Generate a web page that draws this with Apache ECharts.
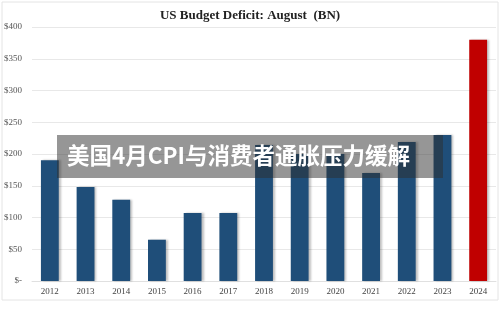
<!DOCTYPE html>
<html>
<head>
<meta charset="utf-8">
<script src="https://cdn.jsdelivr.net/npm/echarts@6/dist/echarts.min.js"></script>
<style>
html, body { margin: 0; padding: 0; background: #fff; }
#main { width: 500px; height: 315px; }
</style>
</head>
<body>
<div id="main"></div>
<script>
var years = ['2012', '2013', '2014', '2015', '2016', '2017', '2018', '2019', '2020', '2021', '2022', '2023', '2024'];
var deficit = [190, 148, 128, 65, 107, 107, 214, 200, 200, 170, 219, 230, 380];
var yTicks = [0, 50, 100, 150, 200, 250, 300, 350, 400];
var bannerText = '美国4月CPI与消费者通胀压力缓解';

var myChart = echarts.init(document.getElementById('main'));

var option = {
    backgroundColor: '#fff',
    animation: false,
    title: {
        text: 'US Budget Deficit: August  (BN)',
        left: 'center',
        top: 4,
        textStyle: {
            fontFamily: 'Liberation Serif',
            fontWeight: 'bold',
            fontSize: 13,
            color: '#222'
        }
    },
    grid: {
        left: 32,
        right: 4,
        top: 27,
        bottom: 34
    },
    xAxis: {
        type: 'category',
        data: years,
        axisLine: { lineStyle: { color: '#e0e0e0' } },
        axisTick: { show: false },
        axisLabel: {
            fontFamily: 'Liberation Serif',
            fontSize: 9,
            color: '#444',
            margin: 6
        }
    },
    yAxis: {
        type: 'value',
        min: 0,
        max: 400,
        interval: 50,
        axisLine: { show: false },
        axisTick: { show: false },
        splitLine: { lineStyle: { color: '#e8e8e8' } },
        axisLabel: {
            fontFamily: 'Liberation Serif',
            fontSize: 9,
            color: '#555',
            margin: 10,
            formatter: function (v) {
                return yTicks.indexOf(v) === 0 ? '$-' : '$' + v;
            }
        }
    },
    series: [{
        type: 'bar',
        barWidth: '50%',
        data: deficit.map(function (v, i) {
            return {
                value: v,
                itemStyle: { color: i === deficit.length - 1 ? '#c00000' : '#1f4e79' }
            };
        }),
        itemStyle: {
            shadowColor: 'rgba(0,0,0,0.25)',
            shadowOffsetX: 2,
            shadowOffsetY: 0,
            shadowBlur: 2
        }
    }],
    graphic: [{
        type: 'rect',
        shape: { x: 2, y: 2, width: 496, height: 298 },
        style: { fill: 'none', stroke: '#e4e4e4', lineWidth: 1 },
        z: 1
    }, {
        type: 'rect',
        shape: { x: 57, y: 135, width: 386, height: 43 },
        style: { fill: 'rgba(45,45,45,0.5)' },
        z: 100
    }, {
        type: 'text',
        left: 67,
        top: 144,
        style: {
            text: bannerText,
            fill: '#fff',
            font: 'bold 22.5px "Noto Sans CJK SC"'
        },
        z: 101
    }]
};
myChart.setOption(option);
</script>
</body>
</html>
